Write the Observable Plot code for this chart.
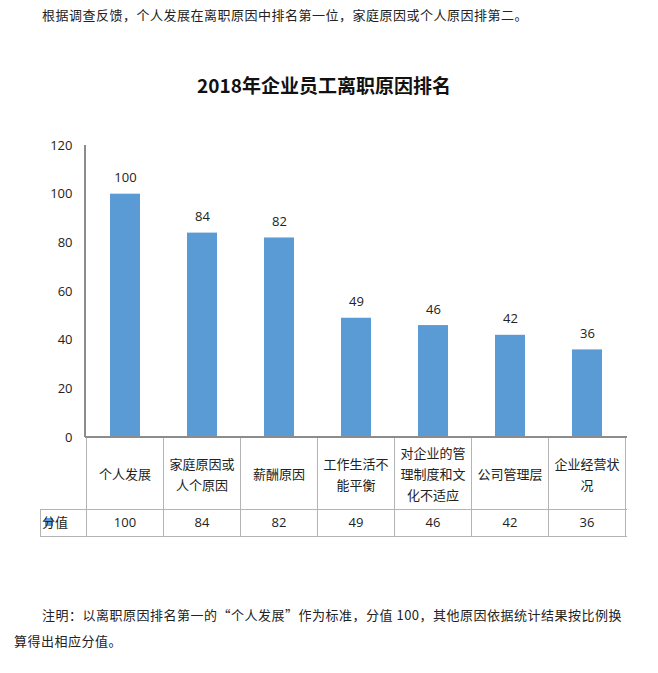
<!DOCTYPE html>
<html>
<head>
<meta charset="utf-8">
<script src="https://cdn.jsdelivr.net/npm/d3@7"></script>
<script src="https://cdn.jsdelivr.net/npm/@observablehq/plot@0.6"></script>
<style>
  html, body { margin: 0; padding: 0; background: #fff; }
  #page { position: relative; width: 658px; height: 673px; overflow: hidden;
          font-family: "Noto Sans CJK SC", "Open Sans", sans-serif; color: #222; }
  .line { position: absolute; white-space: nowrap; font-size: 13px; line-height: 20px; letter-spacing: 0.5px; }
  #title { position: absolute; left: 0; width: 648px; top: 72px; text-align: center;
           font-size: 19px; font-weight: bold; line-height: 26px; color: #111; }
  #chart { position: absolute; left: 0; top: 130px; }
</style>
</head>
<body>
<div id="page">
  <div class="line" style="left:42px; top:5px;">根据调查反馈，个人发展在离职原因中排名第一位，家庭原因或个人原因排第二。</div>
  <div id="title">2018年企业员工离职原因排名</div>
  <div id="chart"></div>
  <div class="line" style="left:42px; top:605px;">注明：以离职原因排名第一的“个人发展”作为标准，分值 100，其他原因依据统计结果按比例换</div>
  <div class="line" style="left:14px; top:631px;">算得出相应分值。</div>
</div>
<script>
const categories = ["个人发展", "家庭原因或人个原因", "薪酬原因", "工作生活不能平衡", "对企业的管理制度和文化不适应", "公司管理层", "企业经营状况"];
const values = [100, 84, 82, 49, 46, 42, 36];
const yTicks = [0, 20, 40, 60, 80, 100, 120];
const seriesName = "分值";

const data = categories.map((c, i) => ({category: c, value: values[i]}));
const barColor = "#5B9BD5";
const wrap = s => s.match(/.{1,5}/g);

function tableMark(index, scales, channels, dims) {
  const {x, y} = scales;
  const step = x.step();
  const bw = x.bandwidth();
  const y0 = y(0);
  const yTop = y(yTicks[yTicks.length - 1]);
  const left = dims.marginLeft;
  const right = dims.width - dims.marginRight;
  const rowTop = y0 + 72;
  const rowBottom = y0 + 99;
  const legendLeft = 40;
  const g = d3.create("svg:g");
  const gridColor = "#b4b4b4";
  const axisColor = "#8c8c8c";
  const bounds = categories.map(c => x(c) + bw / 2 - step / 2);
  bounds.push(x(categories[categories.length - 1]) + bw / 2 + step / 2);
  // table vertical lines
  for (const b of bounds) {
    g.append("line").attr("x1", b).attr("x2", b).attr("y1", y0).attr("y2", rowBottom)
      .attr("stroke", gridColor).attr("shape-rendering", "crispEdges");
  }
  // value row
  g.append("line").attr("x1", legendLeft).attr("x2", right).attr("y1", rowTop).attr("y2", rowTop)
    .attr("stroke", gridColor).attr("shape-rendering", "crispEdges");
  g.append("line").attr("x1", legendLeft).attr("x2", right).attr("y1", rowBottom).attr("y2", rowBottom)
    .attr("stroke", gridColor).attr("shape-rendering", "crispEdges");
  g.append("line").attr("x1", legendLeft).attr("x2", legendLeft).attr("y1", rowTop).attr("y2", rowBottom)
    .attr("stroke", gridColor).attr("shape-rendering", "crispEdges");
  // axes
  g.append("line").attr("x1", left).attr("x2", left).attr("y1", yTop).attr("y2", y0)
    .attr("stroke", axisColor).attr("stroke-width", 1.5).attr("shape-rendering", "crispEdges");
  g.append("line").attr("x1", left).attr("x2", right).attr("y1", y0).attr("y2", y0)
    .attr("stroke", axisColor).attr("stroke-width", 1.5).attr("shape-rendering", "crispEdges");
  // category labels
  categories.forEach(c => {
    const lines = wrap(c);
    const cx = x(c) + bw / 2;
    const t = g.append("text").attr("text-anchor", "middle").attr("font-size", 13).attr("fill", "#222");
    lines.forEach((ln, i) => {
      t.append("tspan").attr("x", cx)
        .attr("y", y0 + 37 - (lines.length - 1) * 10.5 + i * 21)
        .attr("dominant-baseline", "central").text(ln);
    });
  });
  // values row
  data.forEach(d => {
    g.append("text").attr("x", x(d.category) + bw / 2).attr("y", y0 + 85)
      .attr("text-anchor", "middle").attr("dominant-baseline", "central")
      .attr("font-size", 13).attr("fill", "#222").text(d.value);
  });
  // legend cell
  g.append("rect").attr("x", legendLeft + 5).attr("y", y0 + 81).attr("width", 8).attr("height", 8).attr("fill", barColor);
  g.append("text").attr("x", legendLeft + 15).attr("y", y0 + 85).attr("dominant-baseline", "central")
    .attr("font-size", 13).attr("fill", "#222").text(seriesName);
  return g.node();
}

const chart = Plot.plot({
  width: 658,
  height: 420,
  marginTop: 15,
  marginBottom: 113,
  marginLeft: 85,
  marginRight: 31,
  style: {fontFamily: "'Open Sans', 'Noto Sans CJK SC', sans-serif", fontSize: "13px", color: "#222", background: "transparent", overflow: "visible"},
  x: {domain: categories, axis: null, paddingInner: 0.61, paddingOuter: 0.305},
  y: {domain: [0, 120], ticks: yTicks, tickSize: 0, tickPadding: 13, label: null},
  marks: [
    Plot.barY(data, {x: "category", y: "value", fill: barColor}),
    Plot.text(data, {x: "category", y: "value", text: d => String(d.value), dy: -16, fontSize: 13, fill: "#222"}),
    tableMark
  ]
});
document.getElementById("chart").appendChild(chart);
</script>
</body>
</html>
